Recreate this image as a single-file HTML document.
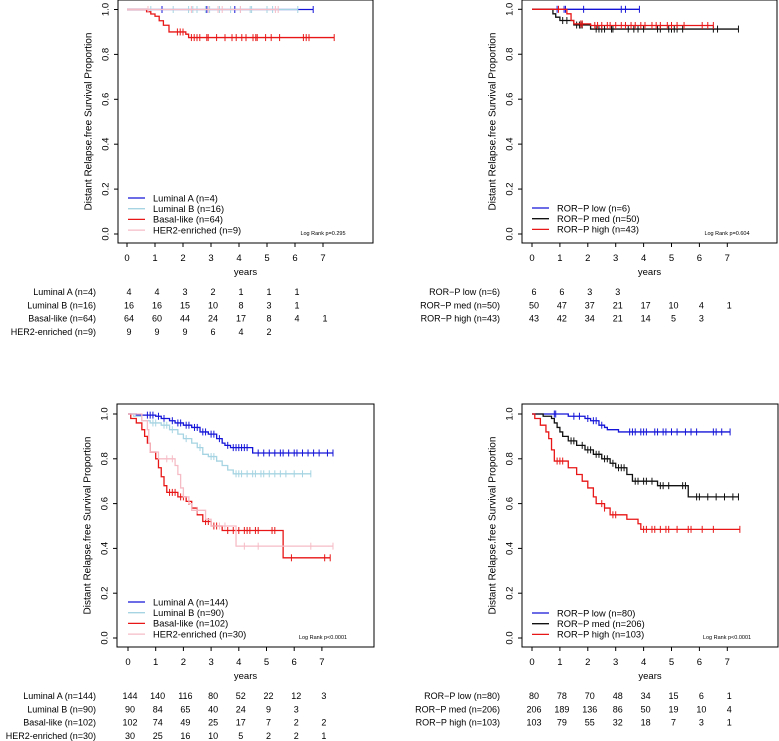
<!DOCTYPE html>
<html><head><meta charset="utf-8">
<style>
html,body{margin:0;padding:0;background:#fff;}
svg{display:block;font-family:"Liberation Sans",Arial,sans-serif;}
</style></head>
<body>
<svg id="fig" width="779" height="741" viewBox="0 0 779 741" xmlns="http://www.w3.org/2000/svg"></svg>
<script>
// ---------- DATA ----------
const yearTicks = [0,1,2,3,4,5,6,7];
const yTicks = [0.0,0.2,0.4,0.6,0.8,1.0];
const yTickLabels = ["0.0","0.2","0.4","0.6","0.8","1.0"];

// Panel A (top-left)
const aNames = ["Luminal A (n=4)","Luminal B (n=16)","Basal-like (n=64)","HER2-enriched (n=9)"];
const aColors = ["#1414d8","#a6d4e2","#e81616","#f6bcc6"];
const aLumA_t = [0]; const aLumA_s = [1.0]; const aLumA_end = 6.65;
const aLumA_c = [1.25,2.85,3.85,6.65];
const aLumB_t = [0]; const aLumB_s = [1.0]; const aLumB_end = 6.1;
const aLumB_c = [0.85,1.65,2.2,2.35,2.5,2.8,2.95,3.3,3.7,4.05,4.4,4.45,5.0,5.2,6.1];
const aBas_t = [0.7,0.85,1.0,1.15,1.3,1.5,2.1,2.2]; const aBas_s = [0.99,0.98,0.97,0.95,0.93,0.9,0.89,0.875]; const aBas_end = 7.4;
const aBas_c = [1.8,1.9,2.0,2.3,2.4,2.5,2.6,2.85,2.9,3.2,3.5,3.75,3.9,4.1,4.25,4.5,4.6,4.65,4.95,5.15,5.45,6.3,6.4,6.5,7.4];
const aHer_t = [0]; const aHer_s = [1.0]; const aHer_end = 5.4;
const aHer_c = [0.75,2.3,2.9,3.25,3.4,4.05,5.3,5.4];
const aRisk = [[4,4,3,2,1,1,1],[16,16,15,10,8,3,1],[64,60,44,24,17,8,4,1],[9,9,9,6,4,2]];
const aP = "Log Rank p=0.295";

// Panel B (top-right)
const bNames = ["ROR\u2212P low (n=6)","ROR\u2212P med (n=50)","ROR\u2212P high (n=43)"];
const bColors = ["#1414d8","#111111","#e81616"];
const bLow_t=[0]; const bLow_s=[1.0]; const bLow_end=3.85;
const bLow_c=[0.9,1.15,1.2,1.85,3.2,3.35,3.85];
const bMed_t=[0.75,0.85,1.0,1.5,2.1]; const bMed_s=[0.98,0.965,0.95,0.93,0.912]; const bMed_end=7.4;
const bMed_c=[1.1,1.25,1.6,1.7,1.75,1.8,2.3,2.4,2.5,2.6,2.85,2.9,3.45,3.65,3.8,4.0,4.5,4.6,4.9,5.0,5.1,5.2,5.4,6.5,6.65,7.4];
const bHigh_t=[1.25,1.4,1.5,2.1]; const bHigh_s=[0.98,0.95,0.935,0.928]; const bHigh_end=6.5;
const bHigh_c=[0.95,1.75,1.8,2.25,2.35,2.5,2.7,2.8,3.0,3.2,3.35,3.55,3.7,3.9,4.05,4.3,4.45,4.6,4.85,5.0,5.2,5.45,6.1,6.3,6.5];
const bRisk=[[6,6,3,3],[50,47,37,21,17,10,4,1],[43,42,34,21,14,5,3]];
const bP = "Log Rank p=0.604";

// Panel C (bottom-left)
const cNames=["Luminal A (n=144)","Luminal B (n=90)","Basal-like (n=102)","HER2-enriched (n=30)"];
const cColors=aColors;
const cLumA_t=[0.3,1.0,1.2,1.5,1.7,2.0,2.3,2.6,2.9,3.2,3.4,3.5,3.7,4.5]; const cLumA_s=[0.995,0.99,0.98,0.97,0.96,0.95,0.94,0.92,0.91,0.89,0.87,0.86,0.85,0.826]; const cLumA_end=7.4;
const cLumA_c=[0.7,0.8,0.9,1.1,1.3,1.6,1.8,1.9,2.1,2.2,2.4,2.5,2.7,2.8,3.0,3.1,3.3,3.6,3.8,3.9,4.0,4.1,4.2,4.3,4.7,4.9,5.1,5.3,5.5,5.6,5.8,6.0,6.1,6.3,6.5,6.7,6.9,7.2,7.4];
const cLumB_t=[0.2,0.5,0.8,1.2,1.5,1.8,2.0,2.3,2.5,2.7,2.9,3.2,3.4,3.6,3.8]; const cLumB_s=[0.99,0.97,0.96,0.95,0.93,0.91,0.89,0.87,0.85,0.82,0.81,0.79,0.77,0.75,0.733]; const cLumB_end=6.6;
const cLumB_c=[0.9,1.0,1.3,1.4,1.6,2.1,2.6,3.0,3.1,3.9,4.0,4.1,4.3,4.5,4.6,4.8,4.9,5.1,5.3,5.5,5.7,6.0,6.3,6.6];
const cBas_t=[0.1,0.3,0.5,0.6,0.7,0.8,1.0,1.1,1.2,1.3,1.4,1.8,2.1,2.3,2.5,2.7,3.0,3.4,5.6]; const cBas_s=[0.98,0.96,0.93,0.9,0.87,0.83,0.8,0.76,0.72,0.68,0.65,0.63,0.61,0.58,0.55,0.52,0.5,0.48,0.358]; const cBas_end=7.3;
const cBas_c=[1.5,1.6,1.7,1.9,2.0,2.2,2.8,2.9,3.1,3.2,3.6,3.8,4.0,4.2,4.3,4.4,4.6,4.7,5.2,5.3,5.9,7.1,7.3];
const cHer_t=[0.5,0.7,0.75,0.8,1.1,1.7,1.8,1.9,2.0,2.2,2.3,2.8,3.0,3.9]; const cHer_s=[0.97,0.93,0.87,0.83,0.8,0.77,0.73,0.67,0.63,0.6,0.57,0.53,0.5,0.41]; const cHer_end=7.4;
const cHer_c=[1.4,1.6,2.5,3.3,3.5,4.2,4.7,6.6,7.4];
const cRisk=[[144,140,116,80,52,22,12,3],[90,84,65,40,24,9,3],[102,74,49,25,17,7,2,2],[30,25,16,10,5,2,2,1]];
const cP = "Log Rank p<0.0001";

// Panel D (bottom-right)
const dNames=["ROR\u2212P low (n=80)","ROR\u2212P med (n=206)","ROR\u2212P high (n=103)"];
const dColors=bColors;
const dLow_t=[1.3,1.9,2.1,2.4,2.6,2.7,3.1]; const dLow_s=[0.99,0.98,0.97,0.95,0.94,0.93,0.92]; const dLow_end=7.1;
const dLow_c=[0.8,0.85,1.5,1.7,2.0,2.2,2.3,2.5,3.5,3.6,3.7,3.9,4.0,4.1,4.4,4.5,4.7,4.8,5.0,5.2,5.5,5.7,5.9,6.5,6.6,6.8,7.1];
const dMed_t=[0.4,0.7,0.8,0.9,1.0,1.1,1.3,1.6,1.9,2.2,2.5,2.8,3.0,3.4,3.6,4.5,5.6]; const dMed_s=[0.99,0.98,0.96,0.94,0.92,0.9,0.88,0.86,0.84,0.82,0.8,0.78,0.76,0.73,0.70,0.68,0.63]; const dMed_end=7.4;
const dMed_c=[1.4,1.5,1.8,2.0,2.1,2.3,2.4,2.6,2.7,2.9,3.1,3.2,3.3,3.7,3.8,4.0,4.1,4.3,4.6,4.7,4.9,5.4,5.5,5.9,6.0,6.3,6.6,6.9,7.2,7.4];
const dHigh_t=[0.1,0.3,0.5,0.6,0.7,0.8,1.3,1.6,1.8,2.0,2.2,2.3,2.6,2.8,3.4,3.8,3.9]; const dHigh_s=[0.98,0.95,0.92,0.89,0.84,0.79,0.76,0.73,0.7,0.67,0.63,0.6,0.58,0.55,0.53,0.51,0.485]; const dHigh_end=7.45;
const dHigh_c=[0.9,1.0,1.1,2.5,2.6,2.9,3.0,4.0,4.1,4.3,4.4,4.6,4.8,4.9,5.2,5.6,5.7,6.1,6.5,7.45];
const dRisk=[[80,78,70,48,34,15,6,1],[206,189,136,86,50,19,10,4],[103,79,55,32,18,7,3,1]];
const dP = "Log Rank p<0.0001";

// ---------- DRAWING ----------
const NS="http://www.w3.org/2000/svg";
const svg=document.getElementById('fig');
function mk(tag,attrs,parent){const e=document.createElementNS(NS,tag);for(const k in attrs)e.setAttribute(k,attrs[k]);(parent||svg).appendChild(e);return e;}

function panel(cfg){
  const g=mk('g',{});
  
  
  const X=t=>cfg.x0+t*cfg.pxYr;
  const Y=s=>cfg.yZero-s*(cfg.yZero-cfg.yOne);
  const box=mk('rect',{x:cfg.bx0,y:cfg.by0,width:cfg.bx1-cfg.bx0,height:cfg.by1-cfg.by0,fill:'none',stroke:'#000','stroke-width':1},g);
  
  
  yTicks.forEach((v,i)=>{
    const y=Y(v);
    const tk=mk('line',{x1:cfg.bx0-4,x2:cfg.bx0,y1:y,y2:y,stroke:'#000'},g);
    
    
    const tx=mk('text',{x:cfg.bx0-13,y:y,'font-size':9.5,'text-anchor':'middle',transform:`rotate(-90 ${cfg.bx0-13} ${y})`,dy:'0.35em'},g);
    tx.textContent=yTickLabels[i];
    
    
  });
  yearTicks.forEach(v=>{
    const x=X(v);
    const tk=mk('line',{x1:x,x2:x,y1:cfg.by1,y2:cfg.by1+4,stroke:'#000'},g);
    
    
    const tx=mk('text',{x:x,y:cfg.by1+18,'font-size':9.5,'text-anchor':'middle'},g);
    tx.textContent=String(v);
    
    
  });
  const xl=mk('text',{x:(cfg.bx0+cfg.bx1)/2,y:cfg.by1+32,'font-size':9.5,'text-anchor':'middle'},g);
  xl.textContent='years';
  
  
  const yc=(cfg.by0+cfg.by1)/2, ytx=cfg.bx0-30;
  const yl=mk('text',{x:ytx,y:yc,'font-size':10,'text-anchor':'middle',transform:`rotate(-90 ${ytx} ${yc})`,dy:'0.35em'},g);
  yl.textContent='Distant Relapse.free Survival Proportion';
  
  
  cfg.series.forEach((s,i)=>{
    let d=`M${X(0)},${Y(1)}`; let cur=1;
    s.t.forEach((t,j)=>{ if(t===0){cur=s.s[j];return;} d+=` L${X(t)},${Y(cur)} L${X(t)},${Y(s.s[j])}`; cur=s.s[j]; });
    d+=` L${X(s.end)},${Y(cur)}`;
    const p=mk('path',{d:d,fill:'none',stroke:cfg.colors[i],'stroke-width':1.3},g);
    
    
    s.c.forEach(ct=>{
      let v=1; s.t.forEach((t,j)=>{ if(t<=ct) v=s.s[j]; });
      const m=mk('line',{x1:X(ct),x2:X(ct),y1:Y(v)-3.5,y2:Y(v)+3.5,stroke:cfg.colors[i],'stroke-width':1},g);
      
      
    });
  });
  cfg.names.forEach((n,i)=>{
    const ly=cfg.legY+i*cfg.legStep;
    const ln=mk('line',{x1:cfg.legX,x2:cfg.legX+17,y1:ly,y2:ly,stroke:cfg.colors[i],'stroke-width':1.3},g);
    
    
    const tx=mk('text',{x:cfg.legX+25,y:ly+3.3,'font-size':9.3},g);
    tx.textContent=n;
    
    
  });
  const pt=mk('text',{x:cfg.pX,y:cfg.pY,'font-size':5.5,'text-anchor':'middle'},g);
  pt.textContent=cfg.p;
  
  
  cfg.risk.forEach((row,r)=>{
    const ry=cfg.riskY+r*13.3;
    const lb=mk('text',{x:cfg.riskLabX,y:ry,'font-size':9,'text-anchor':'end'},g);
    lb.textContent=cfg.names[r];
    
    
    row.forEach((v,k)=>{
      const tx=mk('text',{x:X(yearTicks[k])+2,y:ry,'font-size':9,'text-anchor':'middle'},g);
      tx.textContent=String(v);
      
      
    });
  });
}

panel({name:'panel-top-left',bx0:118,bx1:373,by0:0,by1:243,x0:127,pxYr:28,yOne:9.5,yZero:234,
  colors:aColors,names:aNames,legX:128,legY:198,legStep:10.7,pX:323,pY:235,p:aP,riskY:295,riskLabX:96,risk:aRisk,
  series:[{t:aLumA_t,s:aLumA_s,end:aLumA_end,c:aLumA_c},{t:aLumB_t,s:aLumB_s,end:aLumB_end,c:aLumB_c},{t:aBas_t,s:aBas_s,end:aBas_end,c:aBas_c},{t:aHer_t,s:aHer_s,end:aHer_end,c:aHer_c}]});
panel({name:'panel-top-right',bx0:522,bx1:777,by0:0,by1:243,x0:532,pxYr:27.9,yOne:9.3,yZero:234,
  colors:bColors,names:bNames,legX:532,legY:208,legStep:10.7,pX:727,pY:235,p:bP,riskY:295,riskLabX:500,risk:bRisk,
  series:[{t:bLow_t,s:bLow_s,end:bLow_end,c:bLow_c},{t:bMed_t,s:bMed_s,end:bMed_end,c:bMed_c},{t:bHigh_t,s:bHigh_s,end:bHigh_end,c:bHigh_c}]});
panel({name:'panel-bottom-left',bx0:117,bx1:374,by0:404,by1:647,x0:128,pxYr:27.7,yOne:414,yZero:638,
  colors:cColors,names:cNames,legX:128,legY:602,legStep:10.7,pX:323,pY:639,p:cP,riskY:699,riskLabX:96,risk:cRisk,
  series:[{t:cLumA_t,s:cLumA_s,end:cLumA_end,c:cLumA_c},{t:cLumB_t,s:cLumB_s,end:cLumB_end,c:cLumB_c},{t:cBas_t,s:cBas_s,end:cBas_end,c:cBas_c},{t:cHer_t,s:cHer_s,end:cHer_end,c:cHer_c}]});
panel({name:'panel-bottom-right',bx0:522,bx1:778,by0:404,by1:647,x0:532,pxYr:27.9,yOne:414,yZero:638,
  colors:dColors,names:dNames,legX:532,legY:613,legStep:10.7,pX:727,pY:639,p:dP,riskY:699,riskLabX:500,risk:dRisk,
  series:[{t:dLow_t,s:dLow_s,end:dLow_end,c:dLow_c},{t:dMed_t,s:dMed_s,end:dMed_end,c:dMed_c},{t:dHigh_t,s:dHigh_s,end:dHigh_end,c:dHigh_c}]});
</script>
</body></html>
